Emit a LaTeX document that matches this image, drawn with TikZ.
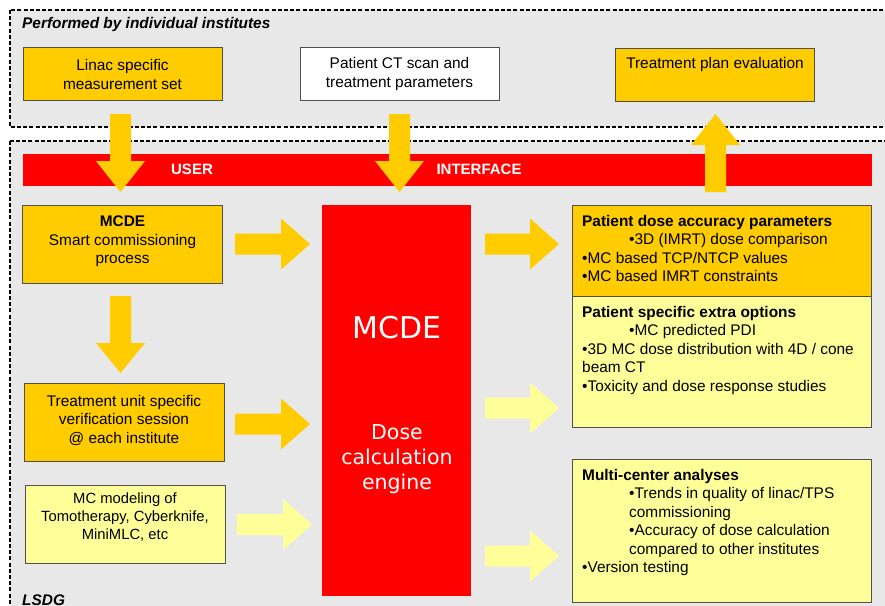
\documentclass[tikz,border=0pt]{standalone}
\usepackage{fontspec}
\setmainfont{Liberation Sans}
\newfontfamily\enginefont{DejaVu Sans}
\definecolor{gold}{HTML}{FFCC00}
\definecolor{paleyel}{HTML}{FFFF99}
\definecolor{bggray}{HTML}{E8E8E8}
\definecolor{edgegray}{HTML}{505050}
\definecolor{brightred}{HTML}{FF0000}
\tikzset{
  frame/.style={draw=black, line width=1.4pt, dash pattern=on 4pt off 2.2pt, fill=bggray},
  topbox/.style={draw=edgegray, line width=0.9pt, minimum width=199pt, minimum height=53pt, align=center, font=\fontsize{15.4}{19}\selectfont, inner sep=0pt},
  sidebox/.style={draw=edgegray, line width=0.9pt, minimum width=200pt, minimum height=78pt, inner sep=0pt},
  sidetext/.style={align=center, font=\fontsize{15.4}{18.5}\selectfont, inner sep=0pt},
  rightbox/.style={draw=edgegray, line width=0.9pt, minimum width=299pt, anchor=north west, inner sep=0pt},
  righttext/.style={anchor=north west, align=left, font=\fontsize{15.4}{18.5}\selectfont, inner sep=0pt},
  bararrow/.style={fill=gold},
  palearrow/.style={fill=paleyel},
  frametitle/.style={font=\fontsize{15.4}{18}\selectfont\bfseries\itshape, anchor=west, inner sep=0pt},
}
\newcommand{\rightblock}[5]{% style, x0, xh, xt, yc
  \fill[#1] (#2,#5-10.5) -- (#3,#5-10.5) -- (#3,#5-25.5) -- (#4,#5) -- (#3,#5+25.5) -- (#3,#5+10.5) -- (#2,#5+10.5) -- cycle;}
\newcommand{\vertblock}[5]{% style, xc, y0, yh, yt
  \fill[#1] (#2-10.5,#3) -- (#2-10.5,#4) -- (#2-24.5,#4) -- (#2,#5) -- (#2+24.5,#4) -- (#2+10.5,#4) -- (#2+10.5,#3) -- cycle;}
\begin{document}
\begin{tikzpicture}[x=1pt,y=-1pt]
\useasboundingbox (0,0) rectangle (885,605);
\clip (0,0) rectangle (885,605);
\fill[white] (0,0) rectangle (885,605);
% frames
\path[frame] (10,10) rectangle (900,127);
\path[frame] (10,141) rectangle (900,620);
\node[frametitle] (perf) at (22,25) {Performed by individual institutes};
\node[frametitle] (lsdg) at (22,600) {LSDG};
% interface bar
\fill[brightred] (23,154) rectangle (872,186);
\node[font=\fontsize{15}{18}\selectfont\bfseries, text=white, inner sep=0pt] (user) at (192,169) {USER};
\node[font=\fontsize{15}{18}\selectfont\bfseries, text=white, inner sep=0pt] (iface) at (479,169) {INTERFACE};
% top boxes
\node[topbox, fill=gold] (linac) at (122.5,74) {Linac specific\\measurement set};
\node[topbox, fill=white] (ct) at (399.5,74) {Patient CT scan and\\treatment parameters};
\node[topbox, fill=gold, anchor=north] (tpe) at (715,48) {};
\node[font=\fontsize{15.4}{19}\selectfont, inner sep=0pt] (tpetext) at (715,65) {Treatment plan evaluation};
% left boxes
\node[sidebox, fill=gold] (smart) at (122.5,244) {};
\node[sidetext] (smarttext) at (122.5,241.5) {\textbf{MCDE}\\Smart commissioning\\process};
\node[sidebox, fill=gold] (unit) at (124,422.5) {};
\node[sidetext] (unittext) at (124,420) {Treatment unit specific\\verification session\\@ each institute};
\node[sidebox, fill=paleyel] (mcmod) at (125,524) {};
\node[sidetext, font=\fontsize{14.8}{18}\selectfont] (mcmodtext) at (125,517.5) {MC modeling of\\Tomotherapy, Cyberknife,\\MiniMLC, etc};
% engine
\fill[brightred] (322,205) rectangle (471,596);
\node[font=\enginefont\fontsize{30}{34}\selectfont, text=white, inner sep=0pt] (mcde) at (397,328) {MCDE};
\node[font=\enginefont\fontsize{20.5}{25}\selectfont, text=white, align=center, inner sep=0pt] (engine) at (397,459) {Dose\\calculation\\engine};
% right boxes
\node[rightbox, fill=gold, minimum height=91pt] (pda) at (572,205) {};
\node[rightbox, fill=paleyel, minimum height=131pt] (pse) at (572,296) {};
\node[rightbox, fill=paleyel, minimum height=143pt] (mca) at (572,459) {};
\node[righttext] (pdatext) at (582,215) {\textbf{Patient dose accuracy parameters}\\
\hspace*{47pt}•3D (IMRT) dose comparison\\
•MC based TCP/NTCP values\\
•MC based IMRT constraints};
\node[righttext] (psetext) at (582,306) {\textbf{Patient specific extra options}\\
\hspace*{47pt}•MC predicted PDI\\
•3D MC dose distribution with 4D / cone\\
beam CT\\
•Toxicity and dose response studies};
\node[righttext] (mcatext) at (582,469) {\textbf{Multi-center analyses}\\
\hspace*{47pt}•Trends in quality of linac/TPS\\
\hspace*{47pt}commissioning\\
\hspace*{47pt}•Accuracy of dose calculation\\
\hspace*{47pt}compared to other institutes\\
•Version testing};
% block arrows
\vertblock{bararrow}{120.5}{114}{161}{192}
\vertblock{bararrow}{399.5}{114}{161}{192}
\vertblock{bararrow}{715.5}{192}{145}{114}
\vertblock{bararrow}{120.5}{296}{343}{373}
\rightblock{bararrow}{235}{281}{310}{244}
\rightblock{bararrow}{235}{281}{310}{424}
\rightblock{palearrow}{237}{283}{312}{524.5}
\rightblock{bararrow}{485}{530}{559}{244}
\rightblock{palearrow}{485}{530}{559}{408}
\rightblock{palearrow}{485}{530}{559}{556}
\end{tikzpicture}
\end{document}
